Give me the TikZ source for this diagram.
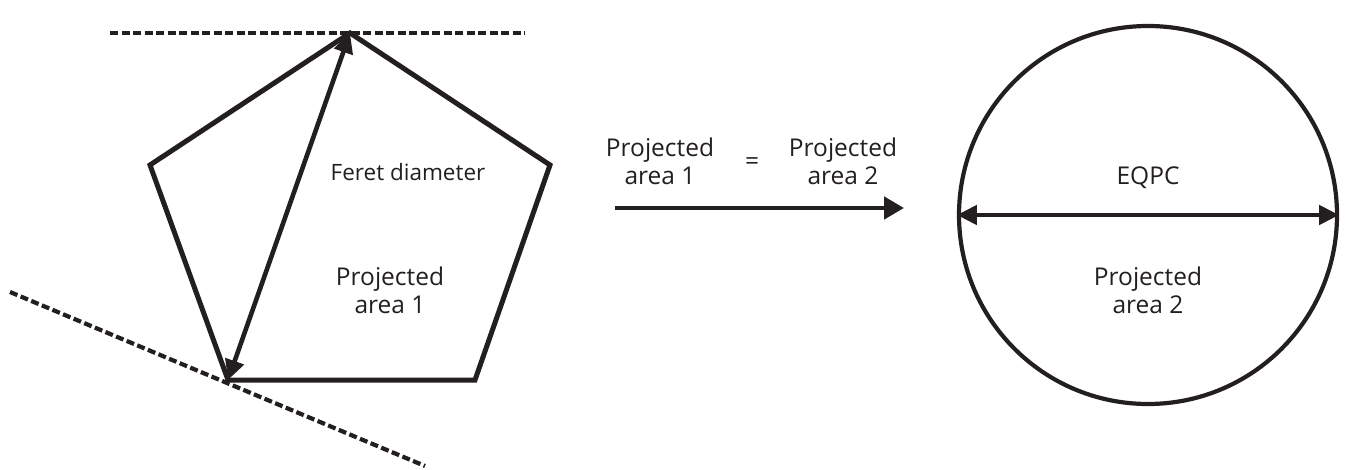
\documentclass[tikz,border=0pt]{standalone}
\usepackage{fontspec}
\setmainfont{Open Sans}
\usetikzlibrary{arrows.meta}
\definecolor{ink}{HTML}{231F20}
\tikzset{
  outline/.style={draw=ink, line width=5pt, line join=miter},
  dashline/.style={draw=ink, line width=4.2pt, dash pattern=on 8pt off 3.5pt},
  dim/.style={draw=ink, fill=ink, line width=4.6pt, {Triangle[length=20pt,width=19pt]}-{Triangle[length=20pt,width=19pt]}},
  flow/.style={draw=ink, fill=ink, line width=4.6pt, -{Triangle[length=20pt,width=22pt]}},
  lbl/.style={font=\fontsize{24.5}{28}\selectfont, align=center, text=ink},
  small/.style={font=\fontsize{22.5}{26}\selectfont, text=ink}
}
\begin{document}
\begin{tikzpicture}[x=1pt,y=-1pt]
\useasboundingbox (0,0) rectangle (1346,470);
% pentagon
\coordinate (T) at (350,33);
\coordinate (L) at (150,165);
\coordinate (BL) at (228,380);
\coordinate (BR) at (475,380);
\coordinate (R) at (550,165);
\draw[outline] (T) -- (R) -- (BR) -- (BL) -- (L) -- cycle;
% dashed tangent lines
\coordinate (d1) at (110,33);
\coordinate (d2) at (525,33);
\coordinate (d3) at (10,292);
\coordinate (d4) at (425,466);
\draw[dashline] (d1) -- (d2);
\draw[dashline] (d3) -- (d4);
% feret diameter
\draw[dim] (BL) -- (T);
\node[small] (feret) at (408,172) {Feret diameter};
\node[lbl] (pa1) at (390,290) {Projected\\area 1};
% middle
\node[lbl] (mpa1) at (660,161) {Projected\\area 1};
\node[lbl] (eq) at (752,164) {=};
\node[lbl] (mpa2) at (843,161) {Projected\\area 2};
\coordinate (a1) at (615,208);
\coordinate (a2) at (904,208);
\draw[flow] (a1) -- (a2);
% circle
\node[draw=ink, circle, line width=4.2pt, minimum size=378pt, inner sep=0pt] (circ) at (1148,215) {};
\draw[dim] (circ.west) -- (circ.east);
\node[lbl] (eqpc) at (1148,178) {EQPC};
\node[lbl] (pa2) at (1148,290) {Projected\\area 2};
\end{tikzpicture}
\end{document}
